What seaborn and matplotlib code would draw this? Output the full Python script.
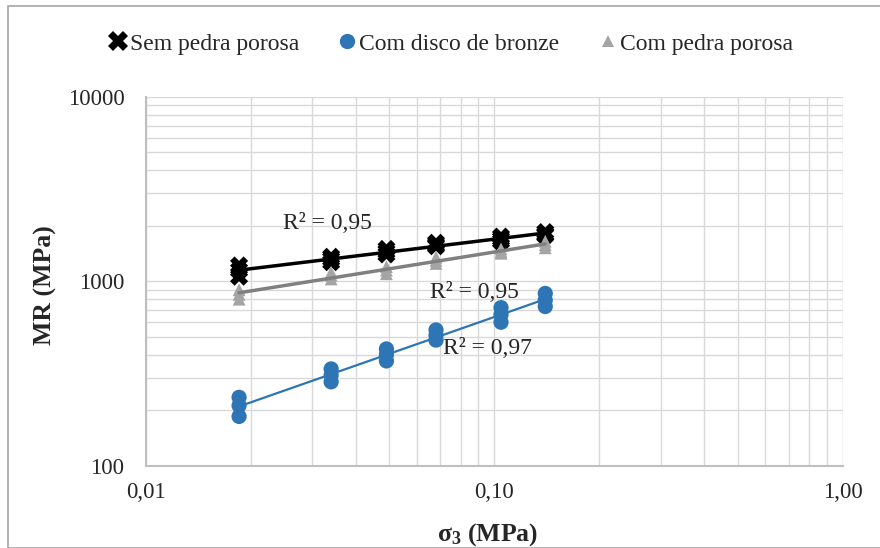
import numpy as np
import pandas as pd
import matplotlib
matplotlib.use("Agg")
import matplotlib.pyplot as plt
from matplotlib.lines import Line2D
from matplotlib.patches import Rectangle
import seaborn as sns

sns.set_style("white")
plt.rcParams['font.family'] = ['Liberation Serif', 'DejaVu Serif']
plt.rcParams['mathtext.fontset'] = 'custom'
plt.rcParams['mathtext.rm'] = 'Liberation Serif'
plt.rcParams['mathtext.bf'] = 'Liberation Serif:bold'
plt.rcParams['mathtext.it'] = 'Liberation Serif:italic'

# ---- data ----
sigma3 = [0.0185, 0.034, 0.049, 0.068, 0.1045, 0.14]
sem_pedra = [[1220, 1150, 1060], [1360, 1320, 1270], [1500, 1450, 1400],
             [1620, 1580, 1550], [1750, 1700, 1650], [1850, 1800, 1780]]
disco_bronze = [[235, 212, 185], [335, 310, 285], [430, 400, 370],
                [545, 510, 480], [720, 660, 600], [860, 790, 730]]
com_pedra = [[900, 850, 800], [1120, 1080, 1030], [1200, 1150, 1100],
             [1350, 1300, 1250], [1500, 1450, 1420], [1650, 1580, 1520]]
series_names = ["Sem pedra porosa", "Com disco de bronze", "Com pedra porosa"]
r2_labels = ["R² = 0,95", "R² = 0,95", "R² = 0,97"]
x_ticks = [0.01, 0.1, 1.0]
x_ticklabels = ["0,01", "0,10", "1,00"]
y_ticks = [100, 1000, 10000]
y_ticklabels = ["100", "1000", "10000"]

def long(vals, name):
    rows = []
    for x, ys in zip(sigma3, vals):
        for y in ys:
            rows.append((x, y, name))
    return pd.DataFrame(rows, columns=["s3", "MR", "serie"])

dfs = [long(sem_pedra, series_names[0]), long(disco_bronze, series_names[1]),
       long(com_pedra, series_names[2])]

fig = plt.figure(figsize=(8.8, 5.48), dpi=100)
fig.patches.append(Rectangle((8/880, 0), 2, 1 - 6/548, transform=fig.transFigure,
                             fill=False, edgecolor='#a6a6a6', linewidth=1.2))
ax = fig.add_axes([146/880, 1 - 465.7/548, (842.7 - 146)/880, (465.7 - 97)/548])
ax.set_xscale('log')
ax.set_yscale('log')
ax.set_xlim(0.01, 1.0)
ax.set_ylim(100, 10000)

ax.grid(True, which='both', color='#d9d9d9', linewidth=1.0)
ax.set_axisbelow(True)
for s in ['top', 'right']:
    ax.spines[s].set_visible(False)
for s in ['left', 'bottom']:
    ax.spines[s].set_color('#bfbfbf')
    ax.spines[s].set_linewidth(1.5)
ax.tick_params(which='both', length=0)

colors = ['black', '#2E75B6', '#A5A5A5']
line_colors = ['black', '#2E75B6', '#808080']
line_widths = [2.5, 1.6, 2.5]
markers = ['X', 'o', '^']
sizes = [170, 120, 85]

for df, c, m, s in zip(dfs, colors, markers, sizes):
    sns.scatterplot(data=df, x="s3", y="MR", ax=ax, color=c, marker=m, s=s,
                    edgecolor='none', linewidth=0, legend=False, zorder=3)

for df, c, lw in zip(dfs, line_colors, line_widths):
    b, a = np.polyfit(np.log(df["s3"]), np.log(df["MR"]), 1)
    xs = np.array([min(sigma3), max(sigma3)])
    fit = pd.DataFrame({"s3": xs, "MR": np.exp(a) * xs ** b})
    sns.lineplot(data=fit, x="s3", y="MR", ax=ax, color=c, linewidth=lw,
                 legend=False, zorder=4)

ax.set_xticks(x_ticks)
ax.set_xticklabels(x_ticklabels)
ax.set_yticks(y_ticks)
ax.set_yticklabels(y_ticklabels)
ax.tick_params(axis='x', labelsize=16.5, pad=12)
ax.tick_params(axis='y', labelsize=16.5, pad=15.5)

ax.set_xlabel(r"σ$_\mathbf{3}$ (MPa)", fontsize=18.5, fontweight='bold')
ax.xaxis.set_label_coords((488 - 146) / (842.7 - 146), -(535 - 465.7) / (465.7 - 97))
ax.xaxis.label.set_va('center')
ax.set_ylabel("MR (MPa)", fontsize=18.5, fontweight='bold')
ax.yaxis.set_label_coords(-(146 - 45) / (842.7 - 146), (465.7 - 285) / (465.7 - 97))
ax.yaxis.label.set_va('center')

r2_pos = [(0.0247, 2047), (0.0654, 865), (0.0713, 430)]
for (x, y), t in zip(r2_pos, r2_labels):
    ax.text(x, y, t, fontsize=17, va='center', ha='left', zorder=5)

handles = [Line2D([], [], linestyle='none', marker=m, color=c, markersize=ms,
                  markeredgewidth=0)
           for m, c, ms in zip(markers, colors, [14, 11, 9])]
fig.legend(handles, series_names, loc='center', bbox_to_anchor=(450/880, 1 - 44/548),
           ncol=3, frameon=False, fontsize=17, handletextpad=0.05,
           columnspacing=1.6, handlelength=0.9)

fig.savefig("out.png", dpi=100)
